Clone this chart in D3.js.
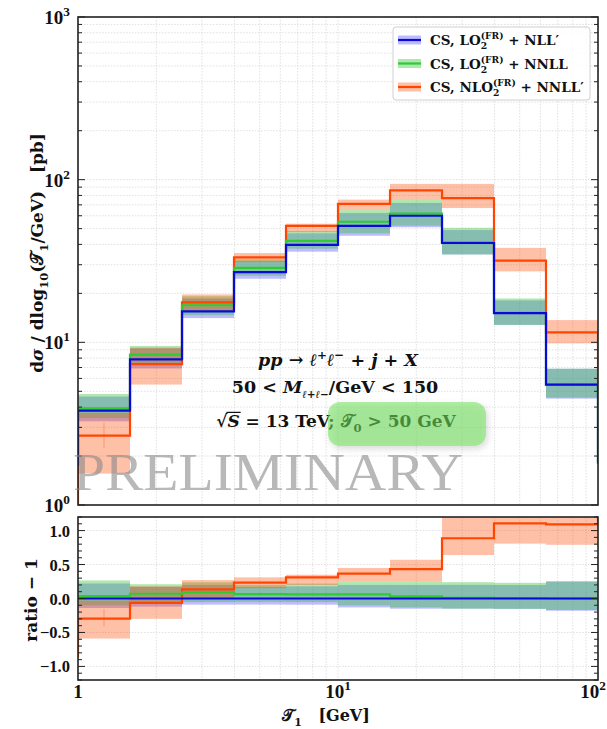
<!DOCTYPE html>
<html>
<head>
<meta charset="utf-8">
<script src="https://cdn.jsdelivr.net/npm/d3@7"></script>
<style>
  html, body { margin: 0; padding: 0; background: #fff; }
  svg text { white-space: pre; }
</style>
</head>
<body>
<svg id="chart" width="607" height="729"></svg>
<script>
// Bin edges in T1 [GeV] (five bins per decade)
const binEdges = [1, 1.585, 2.512, 3.981, 6.310, 10, 15.85, 25.12, 39.81, 63.10, 100];

// CS, LO2(FR) + NLL'  (reference for the ratio)
const nllpCentral = [3.8, 7.85, 15.5, 27, 39.7, 52, 60, 40.8, 15.1, 5.5];
const nllpLow     = [3.27, 6.91, 14.1, 24.6, 36.1, 45.2, 51, 34.7, 12.8, 4.51];
const nllpHigh    = [4.64, 9.18, 18.6, 31.6, 46.8, 62.4, 72, 49, 18.1, 6.88];
const nllpOuter   = [1.74, 1.8];   // underflow / overflow

// CS, LO2(FR) + NNLL
const nnllCentral = [3.93, 8.4, 16.9, 28.7, 42.1, 55.1, 61.8, 41.2, 15.2, 5.5];
const nnllLow     = [3.42, 7.3, 14.7, 25.7, 37.7, 46.8, 52.2, 34.7, 12.8, 4.57];
const nnllHigh    = [4.81, 9.5, 19.2, 32.4, 48.4, 65, 75, 50.6, 18.6, 6.88];
const nnllOuter   = [1.74, 1.8];

// CS, NLO2(FR) + NNLL'
const nnllpCentral = [2.67, 7.35, 17.6, 33.3, 52, 71, 86, 77, 31.8, 11.5];
const nnllpLow     = [1.56, 5.5, 15.5, 31.1, 47.6, 65, 75, 66.9, 27.3, 9.85];
const nnllpHigh    = [3.69, 9.26, 19.7, 35.4, 53.6, 75.4, 94.2, 94.2, 38.1, 13.7];
const nnllpOuter   = [0.23, 5.6];
const nnllpStatBin1 = [2.25, 3.2];

const mainTicks  = [1, 10, 100, 1000];
const ratioTicks = [-1.0, -0.5, 0.0, 0.5, 1.0];
const xTicks     = [1, 10, 100];

const SERIF = "'Liberation Serif', 'DejaVu Serif', serif";
const WIDE  = "'DejaVu Serif', 'Liberation Serif', serif";

const series = [
  { name: "nllp",  central: nllpCentral,  low: nllpLow,  high: nllpHigh,  outer: nllpOuter,
    line: "#0a0ad8", band: "#4040ff", bandOp: 0.35,
    label: [{t:"CS, LO"}, {t:"2", pos:"sub"}, {t:"(FR)", pos:"sup", stack:true}, {t:" + NLL\u2032"}] },
  { name: "nnll",  central: nnllCentral,  low: nnllLow,  high: nnllHigh,  outer: nnllOuter,
    line: "#2ecc2e", band: "#30c030", bandOp: 0.38,
    label: [{t:"CS, LO"}, {t:"2", pos:"sub"}, {t:"(FR)", pos:"sup", stack:true}, {t:" + NNLL"}] },
  { name: "nnllp", central: nnllpCentral, low: nnllpLow, high: nnllpHigh, outer: nnllpOuter,
    line: "#ff4500", band: "#ff4500", bandOp: 0.34,
    label: [{t:"CS, NLO"}, {t:"2", pos:"sub"}, {t:"(FR)", pos:"sup", stack:true}, {t:" + NNLL\u2032"}] }
];

const svg = d3.select("#chart");

const x = d3.scaleLog().domain([1, 100]).range([78, 598]);
const yMain = d3.scaleLog().domain([1, 1000]).range([505, 17]);
const yRatio = d3.scaleLinear().domain([-1.2, 1.2]).range([680, 517]);

// ---- rich text helper (sub/superscripts, stacked indices) ----
const measureCtx = document.createElement("canvas").getContext("2d");
function richText(parent, px, py, pieces, o) {
  const size = o.size, weight = o.weight || "bold", fam = o.family || SERIF;
  let cx = 0, lastStart = 0;
  const placed = [];
  for (const p of pieces) {
    const small = p.pos === "sub" || p.pos === "sup";
    const fs = small ? size * (p.scale || 0.68) : size * (p.scale || 1);
    const font = `${p.it ? "italic " : ""}${weight} ${fs}px ${fam}`;
    measureCtx.font = font;
    const w = measureCtx.measureText(p.t).width;
    const dy = p.pos === "sub" ? size * 0.3 : p.pos === "sup" ? -size * 0.42 : 0;
    let sx;
    if (p.stack) { sx = lastStart; cx = Math.max(cx, lastStart + w); }
    else { sx = cx + (p.dx || 0); lastStart = sx; cx = sx + w; }
    placed.push({ p, fs, sx, dy, w });
  }
  const total = cx;
  const off = o.anchor === "middle" ? -total / 2 : o.anchor === "end" ? -total : 0;
  const t = parent.append("text")
    .attr("font-family", fam).attr("font-weight", weight)
    .attr("fill", o.fill || "#111");
  if (o.transform) t.attr("transform", o.transform);
  for (const q of placed) {
    t.append("tspan")
      .attr("x", px + off + q.sx).attr("y", py + q.dy)
      .attr("font-size", q.fs)
      .attr("font-style", q.p.it ? "italic" : "normal")
      .text(q.p.t);
    if (q.p.over) {
      parent.append("line")
        .attr("x1", px + off + q.sx - 1).attr("x2", px + off + q.sx + q.w + 1)
        .attr("y1", py - size * 0.86).attr("y2", py - size * 0.86)
        .attr("stroke", o.fill || "#111").attr("stroke-width", 1.2)
        .attr("transform", o.transform || null);
    }
  }
  return { width: total, left: px + off };
}

// ---- clip paths and filters ----
const defs = svg.append("defs");
defs.append("clipPath").attr("id", "clipMain").append("rect")
  .attr("x", x(1)).attr("y", yMain(1000)).attr("width", x(100) - x(1)).attr("height", yMain(1) - yMain(1000));
defs.append("clipPath").attr("id", "clipRatio").append("rect")
  .attr("x", x(1)).attr("y", yRatio(1.2)).attr("width", x(100) - x(1)).attr("height", yRatio(-1.2) - yRatio(1.2));
const shadow = defs.append("filter").attr("id", "boxShadow")
  .attr("x", "-20%").attr("y", "-30%").attr("width", "150%").attr("height", "170%");
shadow.append("feDropShadow").attr("dx", 2).attr("dy", 3).attr("stdDeviation", 3)
  .attr("flood-color", "#000").attr("flood-opacity", 0.25);

// ---- grids ----
function minorDecadeValues(lo, hi) {
  const out = [];
  for (let d = lo; d < hi; d *= 10) for (let k = 1; k < 10; k++) out.push(d * k);
  out.push(hi);
  return out;
}
const xGridVals = minorDecadeValues(1, 100);
const yGridVals = minorDecadeValues(1, 1000);
const ratioGridVals = d3.range(-12, 13).map(v => v / 10);

function gridLines(g, vals, vertical, scale, a, b) {
  g.selectAll(null).data(vals).join("line")
    .attr("x1", d => vertical ? x(d) : a).attr("x2", d => vertical ? x(d) : b)
    .attr("y1", d => vertical ? a : scale(d)).attr("y2", d => vertical ? b : scale(d))
    .attr("stroke", "#d8d8d8").attr("stroke-width", 0.8).attr("stroke-dasharray", "1.5,1.5");
}
const gridMain = svg.append("g");
gridLines(gridMain, xGridVals, true, null, yMain(1000), yMain(1));
gridLines(gridMain, yGridVals, false, yMain, x(1), x(100));
const gridRatio = svg.append("g");
gridLines(gridRatio, xGridVals, true, null, yRatio(1.2), yRatio(-1.2));
gridLines(gridRatio, ratioGridVals.filter((d, i) => i % 5 === 2), false, yRatio, x(1), x(100));

// ---- bins ----
const bins = nllpCentral.map((_, i) => ({ i, x0: binEdges[i], x1: binEdges[i + 1] }));
const firstCentre = Math.sqrt(binEdges[0] * binEdges[1]);

function stepPoints(vals, outer) {
  const pts = [[x(binEdges[0]), outer[0]]];
  vals.forEach((v, i) => { pts.push([x(binEdges[i]), v]); pts.push([x(binEdges[i + 1]), v]); });
  pts.push([x(binEdges[binEdges.length - 1]), outer[1]]);
  return pts;
}

// main panel
const gMain = svg.append("g").attr("clip-path", "url(#clipMain)");
series.forEach(s => {
  gMain.append("g").selectAll("rect").data(bins).join("rect")
    .attr("x", d => x(d.x0)).attr("width", d => x(d.x1) - x(d.x0))
    .attr("y", d => yMain(s.high[d.i]))
    .attr("height", d => yMain(s.low[d.i]) - yMain(s.high[d.i]))
    .attr("fill", s.band).attr("fill-opacity", s.bandOp);
});
gMain.append("line")
  .attr("x1", x(firstCentre)).attr("x2", x(firstCentre))
  .attr("y1", yMain(nnllpStatBin1[0])).attr("y2", yMain(nnllpStatBin1[1]))
  .attr("stroke", "#ff4500").attr("stroke-opacity", 0.35).attr("stroke-width", 1);
const lineMain = d3.line().x(d => d[0]).y(d => yMain(d[1]));
[series[2], series[1], series[0]].forEach(s => {
  gMain.append("path").attr("d", lineMain(stepPoints(s.central, s.outer)))
    .attr("fill", "none").attr("stroke", s.line).attr("stroke-width", 2.2);
});

// ratio panel (relative to NLL')
const gRatio = svg.append("g").attr("clip-path", "url(#clipRatio)");
const rel = (v, i) => v / nllpCentral[i] - 1;
series.forEach(s => {
  gRatio.append("g").selectAll("rect").data(bins).join("rect")
    .attr("x", d => x(d.x0)).attr("width", d => x(d.x1) - x(d.x0))
    .attr("y", d => yRatio(rel(s.high[d.i], d.i)))
    .attr("height", d => yRatio(rel(s.low[d.i], d.i)) - yRatio(rel(s.high[d.i], d.i)))
    .attr("fill", s.band).attr("fill-opacity", s.bandOp);
});
gRatio.append("line")
  .attr("x1", x(firstCentre)).attr("x2", x(firstCentre))
  .attr("y1", yRatio(rel(nnllpStatBin1[0], 0))).attr("y2", yRatio(rel(nnllpStatBin1[1], 0)))
  .attr("stroke", "#ff4500").attr("stroke-opacity", 0.35).attr("stroke-width", 1);
const lineRatio = d3.line().x(d => d[0]).y(d => yRatio(d[1]));
[series[2], series[1], series[0]].forEach(s => {
  const vals = s.central.map((v, i) => rel(v, i));
  const outer = [s.outer[0] / nllpOuter[0] - 1, s.outer[1] / nllpOuter[1] - 1];
  gRatio.append("path").attr("d", lineRatio(stepPoints(vals, outer)))
    .attr("fill", "none").attr("stroke", s.line).attr("stroke-width", 2.2);
});

// ---- frames and ticks ----
function frame(y0, y1) {
  svg.append("rect").attr("x", x(1)).attr("y", y0).attr("width", x(100) - x(1)).attr("height", y1 - y0)
    .attr("fill", "none").attr("stroke", "#222").attr("stroke-width", 1.6);
}
frame(yMain(1000), yMain(1));
frame(yRatio(1.2), yRatio(-1.2));

function yTicks(vals, scale, len) {
  const g = svg.append("g");
  vals.forEach(v => {
    const yy = scale(v);
    g.append("line").attr("x1", x(1)).attr("x2", x(1) + len).attr("y1", yy).attr("y2", yy)
      .attr("stroke", "#222").attr("stroke-width", 1);
    g.append("line").attr("x1", x(100)).attr("x2", x(100) - len).attr("y1", yy).attr("y2", yy)
      .attr("stroke", "#222").attr("stroke-width", 1);
  });
}
yTicks(yGridVals.filter(v => !mainTicks.includes(v)), yMain, 4);
yTicks(mainTicks, yMain, 7);
yTicks(ratioGridVals.filter(v => Math.abs(v * 2 - Math.round(v * 2)) > 1e-6), yRatio, 4);
yTicks(ratioTicks, yRatio, 7);

// ---- tick labels ----
mainTicks.forEach(v => {
  const e = Math.round(Math.log10(v));
  richText(svg, 70, yMain(v) + 7, [{ t: "10" }, { t: String(e), pos: "sup", scale: 0.7 }],
    { size: 19, anchor: "end" });
});
ratioTicks.forEach(v => {
  const s = (v < 0 ? "\u2212" : "") + Math.abs(v).toFixed(1);
  richText(svg, 70, yRatio(v) + 6, [{ t: s }], { size: 16.5, anchor: "end" });
});
xTicks.forEach(v => {
  const e = Math.round(Math.log10(v));
  const pieces = e === 0 ? [{ t: "1" }] : [{ t: "10" }, { t: String(e), pos: "sup", scale: 0.7 }];
  if (e === 2) richText(svg, 606, 698, pieces, { size: 19, anchor: "end" });
  else richText(svg, x(v), 698, pieces, { size: 19, anchor: "middle" });
});

// ---- axis titles ----
richText(svg, 0, 0, [
  { t: "d" }, { t: "\u03C3", it: true }, { t: " / dlog" }, { t: "10", pos: "sub" },
  { t: "(" }, { t: "\uD835\uDCAF" }, { t: "1", pos: "sub" }, { t: "/GeV)" }, { t: "   [pb]" }
], { size: 17, anchor: "middle", family: WIDE, transform: "translate(43,253) rotate(-90)" });
richText(svg, 0, 0, [{ t: "ratio \u2212 1" }],
  { size: 17, anchor: "middle", family: WIDE, transform: "translate(37,600) rotate(-90)" });
richText(svg, 326, 721, [{ t: "\uD835\uDCAF" }, { t: "1", pos: "sub" }, { t: "   [GeV]" }],
  { size: 16, anchor: "middle", family: WIDE });

// ---- process annotation ----
const gNote = svg.append("g");
richText(gNote, 338, 366, [
  { t: "pp", it: true }, { t: " \u2192 " }, { t: "\u2113", it: true }, { t: "+", pos: "sup" },
  { t: "\u2113", it: true }, { t: "\u2212", pos: "sup" }, { t: " + " }, { t: "j", it: true },
  { t: " + " }, { t: "X", it: true }
], { size: 17.5, anchor: "middle", family: WIDE });
richText(gNote, 335, 393, [
  { t: "50 < " }, { t: "M", it: true }, { t: "\u2113+\u2113\u2212", pos: "sub", it: true, scale: 0.6 },
  { t: "/GeV < 150" }
], { size: 17.5, anchor: "middle", family: WIDE });
richText(gNote, 336, 427, [
  { t: "\u221A" }, { t: "S", it: true, over: true }, { t: " = 13 TeV; " },
  { t: "\uD835\uDCAF" }, { t: "0", pos: "sub" }, { t: " > 50 GeV" }
], { size: 17, anchor: "middle", family: WIDE });
gNote.append("rect").attr("x", 328).attr("y", 402).attr("width", 158).attr("height", 44)
  .attr("rx", 12).attr("fill", "#6ee05a").attr("fill-opacity", 0.55)
  .attr("filter", "url(#boxShadow)");

// ---- watermark ----
svg.append("text").attr("x", 73).attr("y", 490)
  .attr("font-family", SERIF).attr("font-size", 53).attr("font-weight", "normal")
  .attr("textLength", 390).attr("lengthAdjust", "spacingAndGlyphs")
  .attr("fill", "#888").attr("fill-opacity", 0.6)
  .text("PRELIMINARY");

// ---- legend ----
const gLeg = svg.append("g");
gLeg.append("rect").attr("x", 393).attr("y", 27).attr("width", 197).attr("height", 73)
  .attr("rx", 3).attr("fill", "#fff").attr("fill-opacity", 0.85)
  .attr("stroke", "#d0d0d0").attr("stroke-width", 1);
series.forEach((s, k) => {
  const yy = 40 + k * 23.5;
  gLeg.append("rect").attr("x", 398).attr("y", yy - 4.5).attr("width", 23).attr("height", 9)
    .attr("fill", s.band).attr("fill-opacity", s.bandOp);
  gLeg.append("line").attr("x1", 398).attr("x2", 421).attr("y1", yy).attr("y2", yy)
    .attr("stroke", s.line).attr("stroke-width", 2.2);
  richText(gLeg, 430, yy + 5, s.label, { size: 13.5, family: WIDE });
});
</script>
</body>
</html>
